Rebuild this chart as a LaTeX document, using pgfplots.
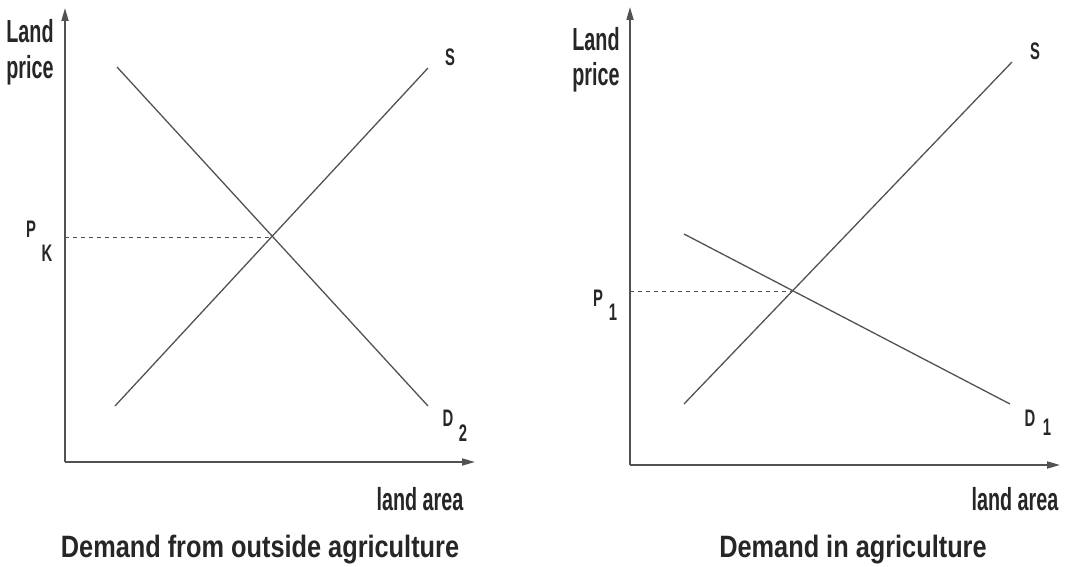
\documentclass[border=0pt]{standalone}
\usepackage{fontspec}
\setmainfont{Liberation Sans}[FakeStretch=0.82]
\newfontfamily\narrowfont{Liberation Sans}[FakeStretch=0.62]
\usepackage{pgfplots}
\pgfplotsset{compat=1.18}
\usetikzlibrary{arrows.meta}

\definecolor{ink}{gray}{0.32}
\definecolor{txt}{gray}{0.15}

\pgfplotsset{
  panel/.style={
    x=1bp, y=1bp,
    anchor=south west,
    axis lines=left,
    xtick=\empty, ytick=\empty,
    clip=false,
    axis line style={ink, line width=1.7bp, -{Triangle[length=13bp,width=7bp]}},
  },
  curve/.style={ink, line width=1.3bp},
  guide/.style={ink, line width=0.8bp, dash pattern=on 4bp off 4bp},
}
\tikzset{
  lab/.style={txt, anchor=base, font=\narrowfont\fontsize{32}{36}\selectfont\bfseries},
  sym/.style={txt, font=\narrowfont\fontsize{24}{26}\selectfont\bfseries},
  ttl/.style={txt, anchor=base, font=\fontsize{31}{36}\selectfont\bfseries},
}

\begin{document}
\begin{tikzpicture}
\path[use as bounding box] (0,0) rectangle (1071bp,567bp);

% left panel: demand from outside agriculture
\begin{axis}[panel, at={(65bp,105bp)},
    xmin=65, xmax=475, ymin=105, ymax=559]
  \addplot[curve] coordinates {(115,161) (428,499)};
  \addplot[curve] coordinates {(117,500) (428,161)};
  \addplot[guide] coordinates {(65,330) (272,330)};
  \node[lab] at (axis cs:30,524) {Land};
  \node[lab] at (axis cs:30,489) {price};
  \node[sym] at (axis cs:450,510) {S};
  \node[sym] at (axis cs:448,149) {D};
  \node[sym] at (axis cs:463,134) {2};
  \node[sym] at (axis cs:31,338) {P};
  \node[sym] at (axis cs:47,314) {K};
  \node[lab] at (axis cs:420,57) {land area};
  \node[ttl] at (axis cs:260,10) {Demand from outside agriculture};
\end{axis}

% right panel: demand in agriculture
\begin{axis}[panel, at={(630bp,102bp)},
    xmin=630, xmax=1060, ymin=102, ymax=560]
  \addplot[curve] coordinates {(684,163) (1012,505)};
  \addplot[curve] coordinates {(684,333) (1010,163)};
  \addplot[guide] coordinates {(630,276) (792,276)};
  \node[lab] at (axis cs:596,516) {Land};
  \node[lab] at (axis cs:596,482) {price};
  \node[sym] at (axis cs:1035,516) {S};
  \node[sym] at (axis cs:1030,149) {D};
  \node[sym] at (axis cs:1047,140) {1};
  \node[sym] at (axis cs:598,269) {P};
  \node[sym] at (axis cs:613,255) {1};
  \node[lab] at (axis cs:1015,57) {land area};
  \node[ttl] at (axis cs:853,10) {Demand in agriculture};
\end{axis}
\end{tikzpicture}
\end{document}
